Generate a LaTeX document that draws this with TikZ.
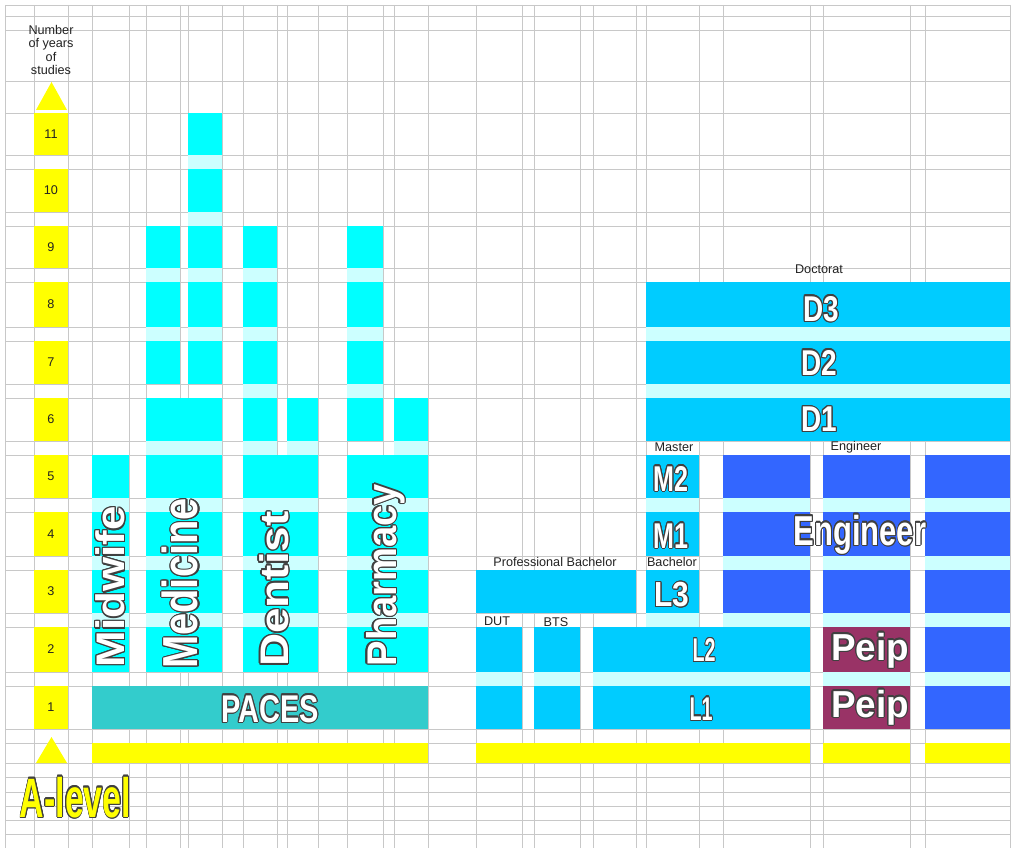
\documentclass[tikz,border=0pt]{standalone}
\usepackage{fontspec}
\setmainfont{Liberation Sans}
\usepackage{graphicx}
\usepackage{contour}
\usepackage{tikz}
\usepackage{xcolor}
\contourlength{0.7pt}

\definecolor{gridc}{HTML}{C8C8C8}
\definecolor{txt}{HTML}{222222}
\definecolor{edge}{HTML}{404040}
\definecolor{ylw}{HTML}{FFFF00}
\definecolor{cyn}{HTML}{00FFFF}
\definecolor{lcyn}{HTML}{CCFFFF}
\definecolor{paces}{HTML}{33CCCC}
\definecolor{sky}{HTML}{00CCFF}
\definecolor{engblue}{HTML}{3366FF}
\definecolor{peip}{HTML}{993366}

% row top / bottom of each year (pixels, index = year)
\def\tops{{0,686,627,570,512,455,398,341,282,226,169,113}}
\def\bots{{0,729,672,613,556,498,441,384,327,268,212,155}}

% cells of years #3..#4 between x=#1 and x=#2
\newcommand{\yrs}[5]{%
  \foreach \k in {#3,...,#4} {
    \pgfmathsetmacro{\yt}{\tops[\k]}
    \pgfmathsetmacro{\yb}{\bots[\k]}
    \fill[#5] (#1,\yt) rectangle (#2,\yb);
  }}
% light rows above years #3..#4
\newcommand{\gaps}[4]{%
  \foreach \k in {#3,...,#4} {
    \pgfmathsetmacro{\yt}{\bots[\k+1]}
    \pgfmathsetmacro{\yb}{\tops[\k]}
    \fill[lcyn] (#1,\yt) rectangle (#2,\yb);
  }}
% outlined bold text: size, stretch, text
\newcommand{\bigtxt}[3]{{\fontsize{#1}{#1}\selectfont\bfseries\scalebox{#2}[1]{\contour{edge}{#3}}}}

\begin{document}
\begin{tikzpicture}[x=0.02cm, y=-0.02cm,
    gridline/.style={draw=gridc, line width=0.55pt},
    lbl/.style={font=\fontsize{7.2}{7.6}\selectfont, text=txt, inner sep=0pt},
    big/.style={text=white, inner sep=0pt, anchor=base},
    tall/.style={text=white, inner sep=0pt, rotate=90}]

    \useasboundingbox (0,0) rectangle (1011,848);
    \fill[white] (0,0) rectangle (1011,848);

    % sheet grid
    \foreach \x in {5,34,68,92,129,146,180,188,222,243,277,287,318,347,383,394,428,476,522,534,580,593,636,646,699,723,810,823,910,925,1010}
        \draw[gridline] (\x,5) -- (\x,848);
    \foreach \y in {5,16,30,81,113,155,169,212,226,268,282,327,341,384,398,441,455,498,512,556,570,613,627,672,686,729,743,763,777,792,806,820,834}
        \draw[gridline] (5,\y) -- (1010,\y);

    % year scale
    \node[lbl, align=center] (hdr) at (51,50) {Number\\of years\\of\\studies};
    \fill[ylw] (36,110) -- (67,110) -- (51.5,82) -- cycle;
    \fill[ylw] (36,763) -- (67,763) -- (51.5,737) -- cycle;
    \foreach \k in {1,...,11} {
        \pgfmathsetmacro{\yt}{\tops[\k]}
        \pgfmathsetmacro{\yb}{\bots[\k]}
        \fill[ylw] (34,\yt) rectangle (68,\yb);
        \node[lbl] (yr\k) at (51,{(\yt+\yb)/2}) {\k};
    }

    % Midwife
    \yrs{92}{129}{2}{5}{cyn}
    \gaps{92}{129}{2}{4}
    % Medicine
    \yrs{146}{222}{2}{6}{cyn}
    \gaps{146}{222}{2}{5}
    \yrs{146}{180}{7}{9}{cyn}
    \gaps{146}{180}{7}{8}
    \yrs{188}{222}{7}{11}{cyn}
    \gaps{188}{222}{7}{10}
    % Dentist
    \yrs{243}{318}{2}{5}{cyn}
    \gaps{243}{318}{2}{4}
    \yrs{243}{277}{6}{9}{cyn}
    \gaps{243}{277}{5}{8}
    \yrs{287}{318}{6}{6}{cyn}
    \gaps{287}{318}{5}{5}
    % Pharmacy
    \yrs{347}{428}{2}{5}{cyn}
    \gaps{347}{428}{2}{4}
    \yrs{347}{383}{6}{9}{cyn}
    \gaps{347}{383}{6}{8}
    \yrs{394}{428}{6}{6}{cyn}
    \gaps{394}{428}{5}{5}
    % PACES
    \yrs{92}{428}{1}{1}{paces}

    % university: DUT, BTS, L1-L3, M1-M2
    \yrs{476}{636}{3}{3}{sky}
    \yrs{476}{522}{1}{2}{sky}
    \gaps{476}{522}{1}{1}
    \yrs{534}{580}{1}{2}{sky}
    \gaps{534}{580}{1}{1}
    \yrs{593}{810}{1}{2}{sky}
    \gaps{593}{810}{1}{1}
    \yrs{646}{699}{3}{5}{sky}
    \gaps{646}{699}{2}{2}
    \gaps{646}{699}{4}{4}
    % Doctorat
    \yrs{646}{1010}{6}{8}{sky}
    \gaps{646}{1010}{6}{7}
    % Engineer school
    \yrs{723}{810}{3}{5}{engblue}
    \gaps{723}{810}{2}{4}
    \yrs{823}{910}{3}{5}{engblue}
    \yrs{823}{910}{1}{2}{peip}
    \gaps{823}{910}{1}{4}
    \yrs{925}{1010}{1}{5}{engblue}
    \gaps{925}{1010}{1}{4}

    % A-level bars
    \fill[ylw] (92,743) rectangle (428,763);
    \fill[ylw] (476,743) rectangle (810,763);
    \fill[ylw] (823,743) rectangle (910,763);
    \fill[ylw] (925,743) rectangle (1010,763);

    % small captions
    \node[lbl] (doc) at (819,269) {Doctorat};
    \node[lbl] (mas) at (674,447) {Master};
    \node[lbl] (engcap) at (856,447) {Engineer};
    \node[lbl] (bac) at (672,562) {Bachelor};
    \node[lbl] (pro) at (555,562) {Professional Bachelor};
    \node[lbl] (dut) at (497,621) {DUT};
    \node[lbl] (bts) at (556,622) {BTS};

    % big labels
    \node[tall] (midwife) at (111,587) {\bigtxt{22.7}{1.1}{Midwife}};
    \node[tall] (medicine) at (181,583.5) {\bigtxt{28}{0.81}{Medicine}};
    \node[tall] (dentist) at (274.5,589) {\bigtxt{22.7}{1.15}{Dentist}};
    \node[tall] (pharmacy) at (386,575) {\bigtxt{23.6}{0.92}{Pharmacy}};
    \node[big] (pacesl) at (270,722) {\bigtxt{22}{0.75}{PACES}};
    \node[big] (d3) at (821,321) {\bigtxt{20.4}{0.78}{D3}};
    \node[big] (d2) at (819,375) {\bigtxt{20.4}{0.78}{D2}};
    \node[big] (d1) at (819,431.5) {\bigtxt{20.4}{0.78}{D1}};
    \node[big] (m2) at (671,491) {\bigtxt{20.4}{0.7}{M2}};
    \node[big] (m1) at (671,548) {\bigtxt{20.4}{0.7}{M1}};
    \node[big] (l3) at (672,606.5) {\bigtxt{19.8}{0.86}{L3}};
    \node[big] (l2) at (704,661.5) {\bigtxt{18.7}{0.6}{L2}};
    \node[big] (l1) at (701,720) {\bigtxt{18.7}{0.6}{L1}};
    \node[big] (peip2) at (870,660) {\bigtxt{21.4}{0.98}{Peip}};
    \node[big] (peip1) at (870,717) {\bigtxt{21.4}{0.98}{Peip}};
    \node[big] (eng) at (860,545) {\bigtxt{23.8}{0.74}{Engineer}};
    \node[big, text=ylw] (alevel) at (75.5,817) {\bigtxt{31.6}{0.61}{A-level}};
\end{tikzpicture}
\end{document}
